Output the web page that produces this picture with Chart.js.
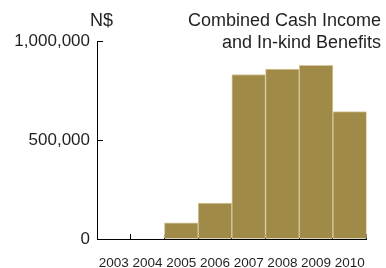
<!DOCTYPE html>
<html>
<head>
<meta charset="utf-8">
<script src="https://cdn.jsdelivr.net/npm/chart.js@4"></script>
<style>
html,body{margin:0;padding:0;background:#fff;}
#wrap{width:386px;height:268px;position:relative;}
</style>
</head>
<body>
<div id="wrap"><canvas id="c" width="386" height="268"></canvas></div>
<script>
const years = ['2003','2004','2005','2006','2007','2008','2009','2010'];
const values = [0, 0, 82000, 182000, 831000, 858000, 877000, 643000];
const yTicks = [0, 500000, 1000000];
const titleLines = ['Combined Cash Income', 'and In-kind Benefits'];
const unitLabel = 'N$';

const FONT = '"Liberation Sans", Arial, sans-serif';
const INK = '#231f20';

const textPlugin = {
  id: 'texts',
  afterDraw(chart) {
    const ctx = chart.ctx;
    ctx.save();
    ctx.fillStyle = INK;
    ctx.font = '18px ' + FONT;
    ctx.textBaseline = 'alphabetic';
    ctx.textAlign = 'right';
    ctx.fillText(titleLines[0], 381, 26);
    ctx.fillText(titleLines[1], 381, 48);
    ctx.textAlign = 'left';
    ctx.fillText(unitLabel, 90, 26);
    ctx.restore();
  }
};

new Chart(document.getElementById('c'), {
  type: 'bar',
  data: {
    labels: years,
    datasets: [{
      data: values,
      backgroundColor: '#a08a48',
      borderColor: '#d6c89e',
      borderWidth: 1,
      barPercentage: 1,
      categoryPercentage: 1
    }]
  },
  options: {
    responsive: false,
    animation: false,
    devicePixelRatio: 1,
    layout: { padding: { top: 41, right: 3, left: 0, bottom: 0 } },
    plugins: { legend: { display: false }, tooltip: { enabled: false }, title: { display: false } },
    scales: {
      x: {
        z: 1,
        grid: { drawOnChartArea: false, drawTicks: true, tickLength: -5, color: '#000', offset: true },
        border: { display: true, color: '#000', width: 1 },
        ticks: { color: INK, font: { family: FONT, size: 13.5 }, padding: 21, maxRotation: 0, autoSkip: false },
        afterFit(s) { s.height = 29; }
      },
      y: {
        z: 1,
        min: 0,
        max: 1000000,
        afterBuildTicks(s) { s.ticks = yTicks.map(v => ({ value: v })); },
        grid: { drawOnChartArea: false, drawTicks: true, tickLength: -6, color: '#000' },
        border: { display: true, color: '#000', width: 1 },
        ticks: {
          color: INK, font: { family: FONT, size: 17 }, padding: 13,
          callback: v => Number(v).toLocaleString('en-US')
        },
        afterFit(s) { s.width = 97; }
      }
    }
  },
  plugins: [textPlugin]
});
</script>
</body>
</html>
